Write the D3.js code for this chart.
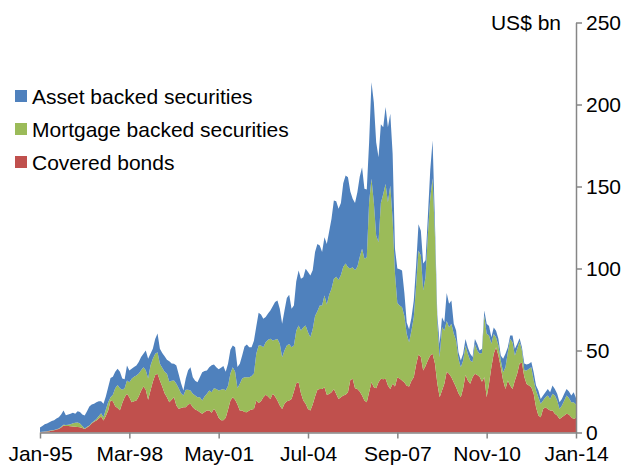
<!DOCTYPE html>
<html>
<head>
<meta charset="utf-8">
<script src="https://cdn.jsdelivr.net/npm/d3@7"></script>
<style>
  html, body { margin: 0; padding: 0; background: #fff; }
  svg { display: block; font-family: "Liberation Sans", Arial, sans-serif; }
</style>
</head>
<body>
<svg id="chart" width="637" height="474"></svg>
<script>
// Monthly data, Jan-1995 .. Jan-2014 (US$ bn)
const seriesNames = ["Covered bonds", "Mortgage backed securities", "Asset backed securities"];
const legendOrder = ["Asset backed securities", "Mortgage backed securities", "Covered bonds"];
const colors = ["#C0504D", "#9BBB59", "#4F81BD"];

const coveredBonds = [
  0.2,0.3,0.4,0.6,0.8,1,1.3,1.8,2.2,3,
  4.2,4,3.9,3.8,3.7,3.5,3.3,3.2,2.8,2.2,
  3,4,5.5,6.5,7.3,8.5,9.7,7.3,10,13.4,
  19.5,19,16,15,13.5,18,21.5,23.6,21.5,18.5,
  19,19.5,22,25.5,28,26,20,25.6,31,35,
  35.8,31.7,28,24,21.5,18.5,20,21.5,16.5,14.5,
  15,15.4,15.4,17,17.5,15.4,14,13.4,12.4,11.4,
  12.5,13.4,13.4,12,14.5,12.4,9,7.5,7.5,9,
  14,19.5,21.5,20,17,13.4,13.4,12.5,12.4,13.4,
  14,14.4,19.5,18,19,21.5,23,22,20.5,23.6,
  22,19.5,16.5,14.4,17.5,19,19.5,20.5,25,30,
  30.7,24,19.5,17.5,14.4,13.4,17,22,26,26.6,
  26.6,27.6,23,23.5,24.6,26.6,23.5,20.5,21.5,22.6,
  23,24.6,32,32.7,27,26.5,25,22.6,19.5,18.5,
  24.6,30.7,27.6,27,30.7,32.7,32.5,32.7,28.6,26.6,
  29.7,28,33.5,33,31.7,30.5,28.5,28,31.5,33.7,
  41.5,47.5,46,37.8,40.5,44,47,48,42,30,
  21.5,25.6,29.7,37,35.8,33.7,30.7,27.6,24,21.5,
  27,35,31.7,29.7,33.7,35.8,35,34,31,33.7,
  21.5,29.7,39.8,48,52,47,39.8,31.7,26.6,31.7,
  28.6,26.6,31.7,36,42,42.5,34,29.5,28.6,27.6,
  23.6,15.4,10.4,9.3,14.4,15.4,14.4,13.4,13.4,11.4,
  10.4,8.3,9.3,10.4,11.4,11,9.3,8.3,9
];
const mortgageBacked = [
  0.1,0.2,0.2,0.2,0.2,0.3,0.3,0.2,0.3,0.5,
  0.6,0.5,0.8,1.2,2,2.5,2.8,2.3,1.2,0.3,
  0.5,0.3,0.5,0.5,1,1.5,2.1,2,4,5.1,
  2,4,11,14,13.5,8,5.5,8.1,9.2,14.2,
  15,15.3,14,12.5,11.8,12,13,15.3,14,13,
  13.2,10.2,11.5,13,14.3,12.5,11.5,10.2,13.2,12.5,
  9,7.2,10.6,9,8.1,8.2,8.5,8.1,9.1,8.1,
  9.5,10.2,12.2,12.5,12.5,14.2,16.6,18.5,19.1,16.6,
  14.5,16.5,18.3,17,10,16.3,19.6,21.2,21.3,20.3,
  20.5,21.6,28.5,35,34,30.5,32,34.5,36.6,32.5,
  34.5,37.5,37.6,31.5,32.5,34,34.5,31.5,28,32,
  34.5,38.2,44.7,47.7,46.8,44.7,46,49,48,50.8,
  50.8,55.9,55,60.5,63,67.1,71.5,72.5,74.5,78.4,
  80,76.2,68,68.1,72,74.5,82,89.4,86.5,88.4,
  115.8,124,112.8,93.1,85.3,107.3,113,118.9,111.8,124,
  100.3,69,45.5,44.5,44.7,40.5,31.5,27,30.5,36.6,
  48.5,63.5,62,48.8,54.5,77,96,107,78,37,
  24.4,38.6,32.5,31,28.4,32.6,29.5,28.5,21,18.3,
  16.9,18,16.3,14.2,9.3,18.2,15,14,17.5,37.6,
  38.7,29.5,14.3,12,6,6,4.2,5.1,13.2,17.3,
  28.4,28.4,15.3,15,13.5,7.5,4,8.3,10.2,12.2,
  8.1,10.2,11.1,8.2,5.1,6.1,8.1,7.1,10.2,11.1,
  9.1,6.1,7.2,9.1,11.1,10,9.2,10.2,8
];
const assetBacked = [
  2.7,3.5,4.4,4.7,5.3,5.7,5.9,6.5,6.8,7.5,
  8.6,6,6.3,6.5,6.3,5.5,6.9,7,7,7.9,
  9.5,11.6,11,10.5,10.2,9,7.3,8.2,8,9.1,
  11.8,11,10,9.8,10,7,5.5,9.2,7.1,6.1,
  6,6.1,7,8,8.2,12,12,7.1,6,9,
  11.4,9.1,9,9.5,8.6,12.5,10.5,10.2,11.2,8.5,
  6,3,7,12,14.2,10.1,9,9.2,12.2,17.2,
  15.5,14.2,14.2,16.5,14.5,13.2,12.9,13.5,13.9,11.4,
  13.5,14.5,13.2,15,13,12.2,14,18.8,20,18.3,
  17.5,20,16.7,20,19,17.3,15.5,16,17.3,20.9,
  23,23.5,21.3,20.4,24.4,29,30,23.4,24.4,30,
  33.6,31.5,30.5,34.6,36.6,37.6,36,39,41,36.6,
  32.6,35.6,37,38.5,42.7,47.8,46,43.5,44,51,
  53.7,54.9,47,41.7,41,45.5,49,49.8,42.6,41.2,
  36.6,58.9,61,56.9,51.9,48,40.7,46.8,45.8,43.7,
  40,15,21,22,22.4,14,7,8,8,10.2,
  12,16,15,16.5,10,11,17,23,8,5,
  8.2,6.1,5.1,17,14.3,14.2,6.1,6.1,4,4.1,
  4.1,4,3.7,4.1,3,3,4,2,2.5,3.1,
  6.1,5.7,4,4,4.1,4.1,3,8.2,8.2,3,
  2.2,4.2,4,3,2,2,4,3.7,3.1,3.2,
  5.1,3,4.1,3,3,3.1,4.1,4.1,5,4.1,
  4.1,4.1,4,4.1,4.1,4,4,6.1,4
];

const xTickMonths = [0, 38, 76, 114, 152, 190, 228];
const xTickLabels = ["Jan-95", "Mar-98", "May-01", "Jul-04", "Sep-07", "Nov-10", "Jan-14"];
const yTicks = [0, 50, 100, 150, 200, 250];
const unitLabel = "US$ bn";

(function () {
  const rows = coveredBonds.map((v, i) => ({
    m: i,
    "Covered bonds": v,
    "Mortgage backed securities": mortgageBacked[i],
    "Asset backed securities": assetBacked[i]
  }));

  const svg = d3.select("#chart");
  const pLeft = 40, pRight = 576, pTop = 22.5, pBottom = 432.5;
  const x = d3.scaleLinear().domain([0, rows.length - 1]).range([pLeft, pRight]);
  const y = d3.scaleLinear().domain([0, 250]).range([pBottom, pTop]);

  const layers = d3.stack().keys(seriesNames)(rows);
  const area = d3.area()
    .x(d => x(d.data.m))
    .y0(d => y(d[0]))
    .y1(d => y(d[1]));

  svg.append("g").selectAll("path")
    .data(layers)
    .join("path")
    .attr("d", area)
    .attr("fill", (d, i) => colors[i]);

  const axisColor = "#868686";
  const fontSize = 21;
  const ff = "Liberation Sans, Arial, sans-serif";

  const xAxis = d3.axisBottom(x)
    .tickValues(xTickMonths)
    .tickFormat((d, i) => xTickLabels[i])
    .tickSizeInner(6).tickSizeOuter(0).tickPadding(8);
  const gx = svg.append("g").attr("transform", `translate(0,${pBottom})`).call(xAxis);
  gx.select(".domain").attr("stroke", axisColor).attr("stroke-width", 1.5);
  gx.selectAll(".tick line").attr("stroke", axisColor).attr("stroke-width", 1.5);
  gx.selectAll(".tick text").attr("fill", "#000").attr("font-size", fontSize).attr("font-family", ff);

  const yAxis = d3.axisRight(y)
    .tickValues(yTicks)
    .tickSizeInner(6).tickSizeOuter(0).tickPadding(4);
  const gy = svg.append("g").attr("transform", `translate(${pRight},0)`).call(yAxis);
  gy.select(".domain").attr("stroke", axisColor).attr("stroke-width", 1.5);
  gy.selectAll(".tick line").attr("stroke", axisColor).attr("stroke-width", 1.5);
  gy.selectAll(".tick text").attr("fill", "#000").attr("font-size", fontSize).attr("font-family", ff);

  svg.append("text")
    .attr("x", 561).attr("y", 30)
    .attr("text-anchor", "end")
    .attr("font-size", fontSize).attr("font-family", ff)
    .text(unitLabel);

  const legend = svg.append("g");
  legendOrder.forEach((name, i) => {
    const cy = 96 + i * 33;
    const col = colors[seriesNames.indexOf(name)];
    legend.append("rect").attr("x", 15).attr("y", cy - 6).attr("width", 12).attr("height", 12).attr("fill", col);
    legend.append("text").attr("x", 32).attr("y", cy + 7.5).attr("font-size", fontSize)
      .attr("font-family", ff).attr("fill", "#000").text(name);
  });
})();
</script>
</body>
</html>
